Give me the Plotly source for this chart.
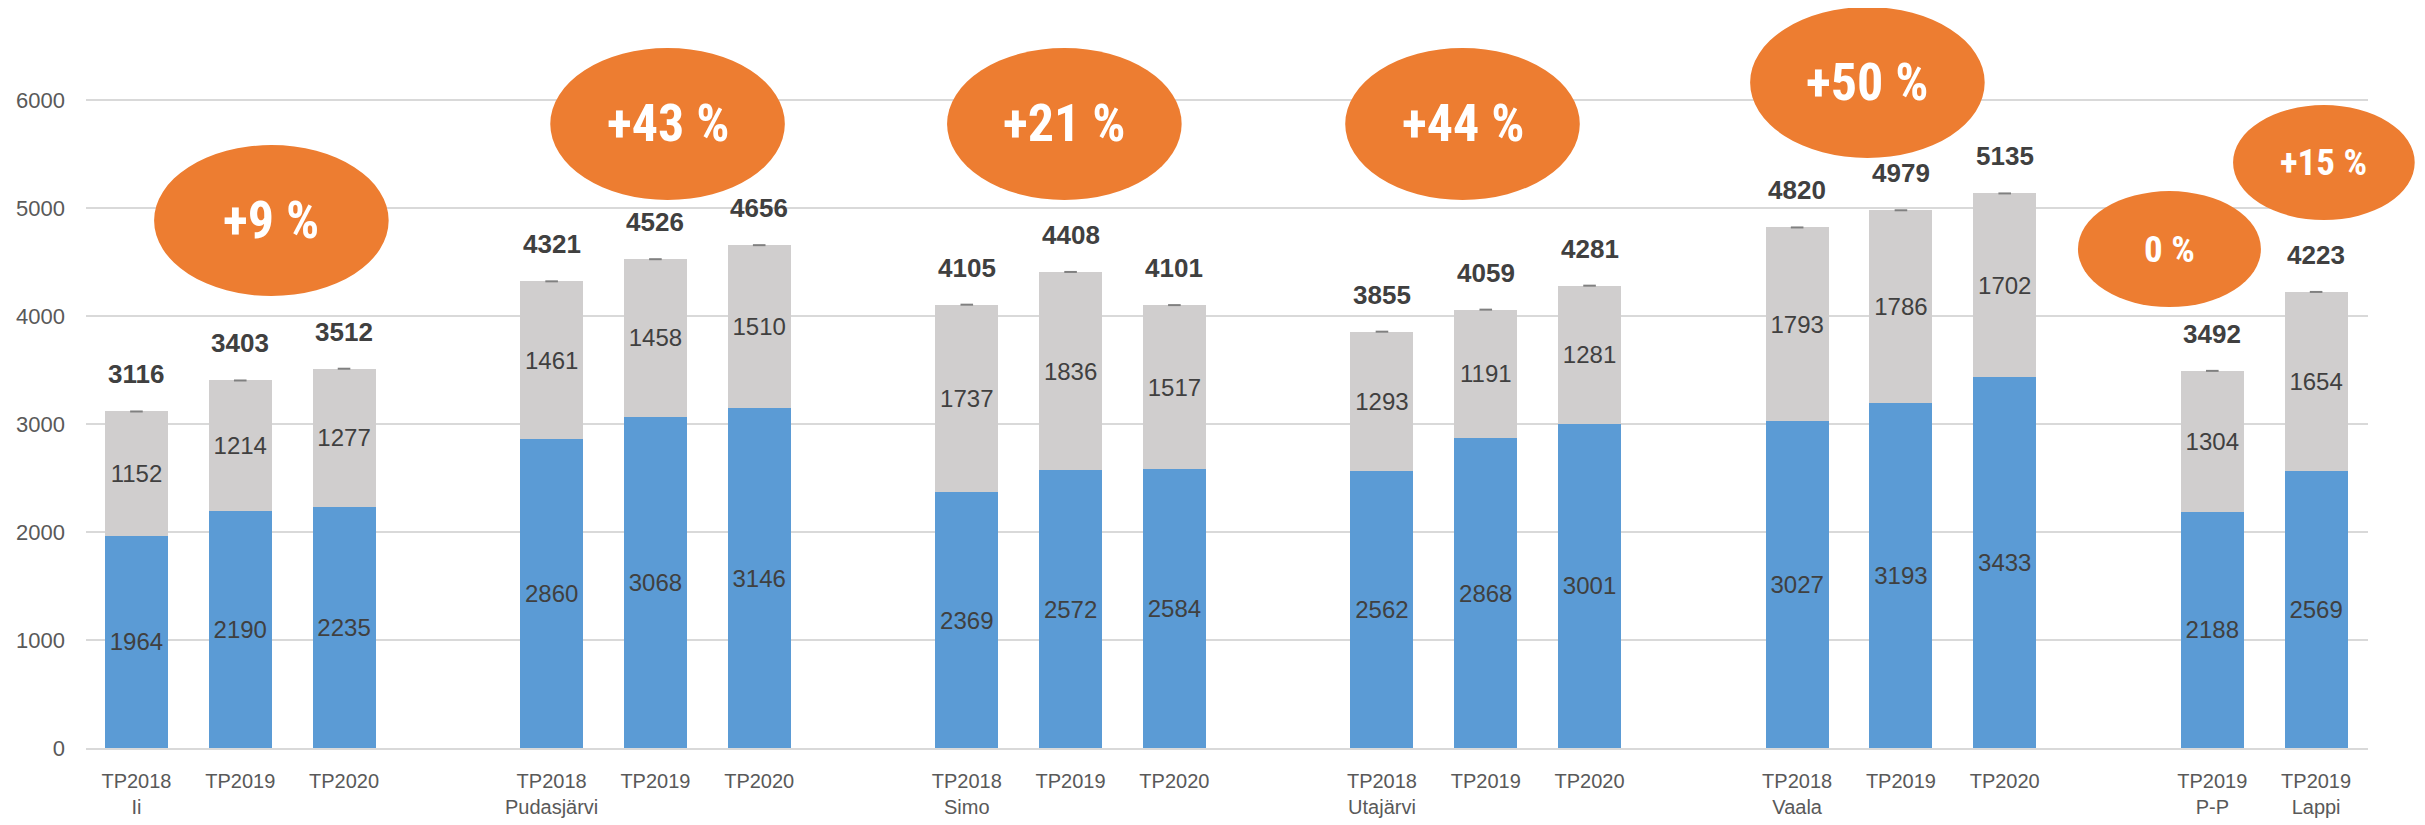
import plotly.graph_objects as go

# ---- data ----
years = ["TP2018", "TP2019", "TP2020", "TP2018", "TP2019", "TP2020", "TP2018", "TP2019", "TP2020",
         "TP2018", "TP2019", "TP2020", "TP2018", "TP2019", "TP2020", "TP2019", "TP2019"]
places = ["Ii", "", "", "Pudasjärvi", "", "", "Simo", "", "", "Utajärvi", "", "", "Vaala", "", "", "P-P", "Lappi"]
group_id = [0, 0, 0, 1, 1, 1, 2, 2, 2, 3, 3, 3, 4, 4, 4, 5, 5]
blue_vals = [1964, 2190, 2235, 2860, 3068, 3146, 2369, 2572, 2584, 2562, 2868, 3001, 3027, 3193, 3433, 2188, 2569]
grey_vals = [1152, 1214, 1277, 1461, 1458, 1510, 1737, 1836, 1517, 1293, 1191, 1281, 1793, 1786, 1702, 1304, 1654]
totals = [3116, 3403, 3512, 4321, 4526, 4656, 4105, 4408, 4101, 3855, 4059, 4281, 4820, 4979, 5135, 3492, 4223]

change_text = ["+9 %", "+43 %", "+21 %", "+44 %", "+50 %", "0 %", "+15 %"]
# ellipse centre / size in axis units (x: bar slots, y: value)
ell_cx = [1.30, 5.117, 8.94, 12.776, 16.677, 19.587, 21.075]
ell_cy = [4884, 5778, 5778, 5778, 6162, 4620, 5421]
ell_w = [2.26, 2.26, 2.26, 2.26, 2.26, 1.763, 1.75]
ell_h = [1398, 1407, 1407, 1407, 1398, 1074, 1065]
ell_font = [52, 52, 52, 52, 52, 37, 37]

BLUE = "#5B9BD5"
GREY = "#D0CECE"
ORANGE = "#ED7D31"
TXT = "#404040"
AX = "#595959"

x_pos = [i + g for i, g in enumerate(group_id)]
tick_text = [y + ("<br>" + p if p else "") for y, p in zip(years, places)]

x_min, x_max = -0.486, 21.5
y_min, y_max = 0, 6852

def px(v):
    return (v - x_min) / (x_max - x_min)

def py(v):
    return (v - y_min) / (y_max - y_min)

fig = go.Figure()
fig.add_trace(go.Bar(x=x_pos, y=blue_vals, marker=dict(color=BLUE, line=dict(width=0)),
                     width=0.607, text=[str(v) for v in blue_vals], textposition="inside",
                     insidetextanchor="middle", constraintext="none", textangle=0,
                     textfont=dict(size=24, color=TXT, family="Liberation Sans, Arial, sans-serif"),
                     hoverinfo="skip", showlegend=False))
fig.add_trace(go.Bar(x=x_pos, y=grey_vals, marker=dict(color=GREY, line=dict(width=0)),
                     width=0.607, text=[str(v) for v in grey_vals], textposition="inside",
                     insidetextanchor="middle", constraintext="none", textangle=0,
                     textfont=dict(size=24, color=TXT, family="Liberation Sans, Arial, sans-serif"),
                     hoverinfo="skip", showlegend=False))
fig.add_trace(go.Scatter(x=x_pos, y=totals, mode="markers",
                         marker=dict(symbol="line-ew", size=9, line=dict(width=2, color="#808080")),
                         hoverinfo="skip", showlegend=False))

for xv, t in zip(x_pos, totals):
    fig.add_annotation(x=xv, y=t, text="<b>%d</b>" % t, showarrow=False, yanchor="middle", yshift=37,
                       font=dict(size=26, color=TXT, family="Liberation Sans, Arial, sans-serif"))

pct_family = "Liberation Sans Narrow, Roboto Condensed, DejaVu Sans Condensed, Liberation Sans, sans-serif"
for cx, cy, w, h, t, fs in zip(ell_cx, ell_cy, ell_w, ell_h, change_text, ell_font):
    fig.add_shape(type="circle", xref="paper", yref="paper",
                  x0=px(cx - w / 2), x1=px(cx + w / 2), y0=py(cy - h / 2), y1=py(cy + h / 2),
                  fillcolor=ORANGE, line=dict(width=0), layer="above")
    fig.add_annotation(xref="paper", yref="paper", x=px(cx), y=py(cy), text="<b>%s</b>" % t,
                       showarrow=False, xanchor="center", yanchor="middle",
                       font=dict(size=fs, color="white", family=pct_family))

fig.update_layout(
    barmode="stack",
    width=2417, height=817,
    margin=dict(l=78, r=57, t=0, b=77),
    plot_bgcolor="white", paper_bgcolor="white",
    font=dict(family="Liberation Sans, Arial, sans-serif"),
    xaxis=dict(range=[x_min, x_max], tickvals=x_pos, ticktext=tick_text, showgrid=False,
               zeroline=False, showline=True, linecolor="#D9D9D9", linewidth=2, ticks="",
               ticklabelstandoff=14, tickfont=dict(size=20, color=AX)),
    yaxis=dict(range=[y_min, y_max], tickvals=[0, 1000, 2000, 3000, 4000, 5000, 6000],
               showgrid=True, gridcolor="#D9D9D9", gridwidth=1.5, zeroline=False, ticks="",
               ticklabelstandoff=20, tickfont=dict(size=22, color=AX)),
)

fig.write_html("out.html")
